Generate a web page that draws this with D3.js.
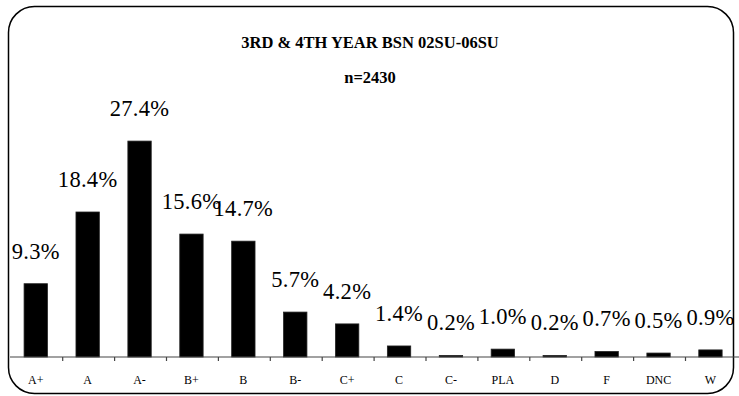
<!DOCTYPE html>
<html>
<head>
<meta charset="utf-8">
<script src="https://cdn.jsdelivr.net/npm/d3@7"></script>
<style>
  html, body { margin: 0; padding: 0; background: #fff; }
  svg { display: block; }
</style>
</head>
<body>
<svg id="chart" width="739" height="396"></svg>
<script>
// Grade distribution, 3rd & 4th year BSN
const grades = ["A+", "A", "A-", "B+", "B", "B-", "C+", "C", "C-", "PLA", "D", "F", "DNC", "W"];
const percents = [9.3, 18.4, 27.4, 15.6, 14.7, 5.7, 4.2, 1.4, 0.2, 1.0, 0.2, 0.7, 0.5, 0.9];
const titleLines = ["3RD & 4TH YEAR BSN 02SU-06SU", "n=2430"];

const svg = d3.select("#chart");
const serif = "'Liberation Serif', Tinos, 'Times New Roman', serif";

// Rounded frame
svg.append("rect")
  .attr("x", 8.5).attr("y", 6.5)
  .attr("width", 725).attr("height", 387)
  .attr("rx", 26).attr("ry", 26)
  .attr("fill", "#fff")
  .attr("stroke", "#000")
  .attr("stroke-width", 1.5);

// Titles
svg.append("text")
  .attr("x", 370).attr("y", 48)
  .attr("text-anchor", "middle")
  .attr("font-family", serif).attr("font-weight", "bold").attr("font-size", 16.5)
  .text(titleLines[0]);
svg.append("text")
  .attr("x", 370).attr("y", 83)
  .attr("text-anchor", "middle")
  .attr("font-family", serif).attr("font-weight", "bold").attr("font-size", 16.5)
  .text(titleLines[1]);

// Scales
const x = d3.scaleBand().domain(grades).range([10.8, 737.4]).padding(0);
const y = d3.scaleLinear().domain([0, 30]).range([357, 120.6]);
const barW = x.bandwidth() * 0.45;

// Bars
svg.append("g").selectAll("rect")
  .data(grades)
  .join("rect")
  .attr("x", (d) => x(d) + (x.bandwidth() - barW) / 2 - 1)
  .attr("y", (d, i) => y(percents[i]))
  .attr("width", barW)
  .attr("height", (d, i) => y(0) - y(percents[i]))
  .attr("fill", "#000")
  .attr("stroke", "#222")
  .attr("stroke-width", 0.8);

// Value labels
svg.append("g").selectAll("text")
  .data(grades)
  .join("text")
  .attr("x", (d) => x(d) + x.bandwidth() / 2 - 1)
  .attr("y", (d, i) => y(percents[i]) - 25)
  .attr("text-anchor", "middle")
  .attr("font-family", serif)
  .attr("font-size", 22.5)
  .attr("letter-spacing", 0.3)
  .text((d, i) => percents[i].toFixed(1) + "%");

// Category axis: baseline with ticks on band boundaries
const axisG = svg.append("g");
axisG.append("line")
  .attr("x1", 10).attr("x2", 739)
  .attr("y1", y(0)).attr("y2", y(0))
  .attr("stroke", "#444").attr("stroke-width", 1.2);
axisG.selectAll("line.tick")
  .data(grades.slice(1))
  .join("line")
  .attr("class", "tick")
  .attr("x1", (d) => x(d)).attr("x2", (d) => x(d))
  .attr("y1", y(0)).attr("y2", y(0) + 4)
  .attr("stroke", "#444").attr("stroke-width", 1.2);
axisG.selectAll("text")
  .data(grades)
  .join("text")
  .attr("x", (d) => x(d) + x.bandwidth() / 2 - 1)
  .attr("y", 384)
  .attr("text-anchor", "middle")
  .attr("font-family", serif)
  .attr("font-size", 12)
  .text((d) => d);
</script>
</body>
</html>
